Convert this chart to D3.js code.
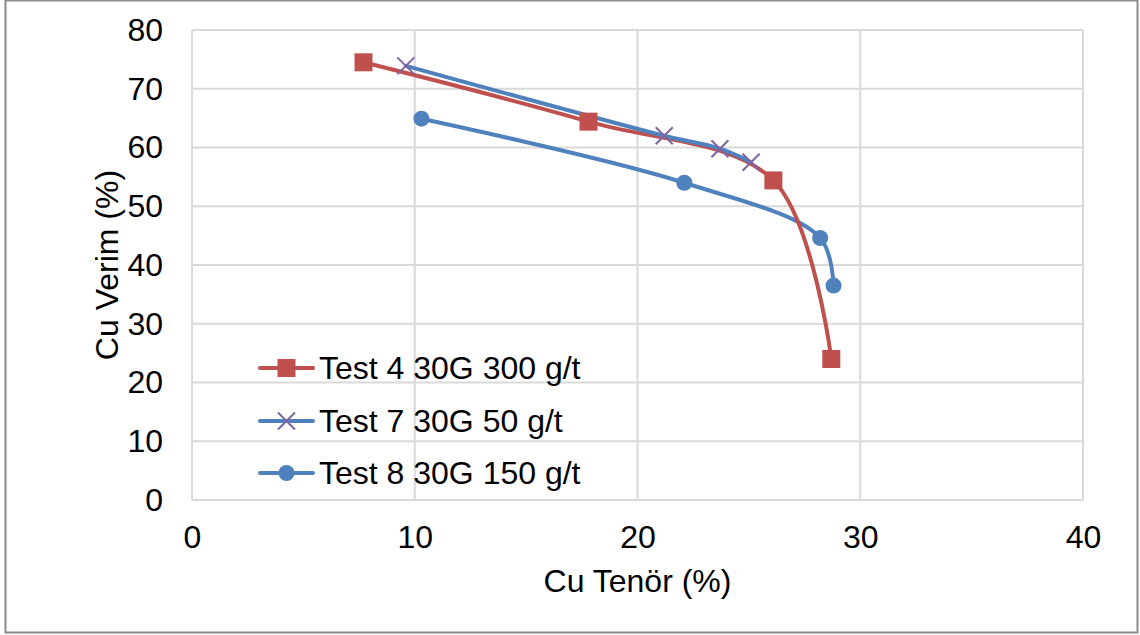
<!DOCTYPE html>
<html>
<head>
<meta charset="utf-8">
<script src="https://cdn.jsdelivr.net/npm/d3@7"></script>
<style>
  html, body { margin: 0; padding: 0; background: #fff; }
  svg { display: block; font-family: "Liberation Sans", Arial, sans-serif; }
</style>
</head>
<body>
<svg id="chart" width="1140" height="635"></svg>
<script>
// data ------------------------------------------------------------
var seriesNames = ["Test 4 30G 300 g/t", "Test 7 30G 50 g/t", "Test 8 30G 150 g/t"];
var test4_x = [7.7, 17.8, 26.1, 28.7];
var test4_y = [74.5, 64.4, 54.4, 24.0];
var test7_x = [9.6, 21.2, 23.7, 25.1];
var test7_y = [73.9, 62.0, 59.8, 57.5];
var test8_x = [10.3, 22.1, 28.2, 28.8];
var test8_y = [64.9, 54.0, 44.6, 36.5];
var xTicks = [0, 10, 20, 30, 40];
var yTicks = [0, 10, 20, 30, 40, 50, 60, 70, 80];

var lineColors = ["#C0504D", "#4F81BD", "#4F81BD"];
var markerColors = ["#C0504D", "#8064A2", "#4F81BD"];
var markerTypes = ["square", "cross", "circle"];

var series = [
  { name: seriesNames[0], xs: test4_x, ys: test4_y },
  { name: seriesNames[1], xs: test7_x, ys: test7_y },
  { name: seriesNames[2], xs: test8_x, ys: test8_y }
];

// layout ----------------------------------------------------------
var svg = d3.select("#chart");
var plot = { left: 192, right: 1083, top: 30, bottom: 500 };
var fontSize = 32;

// outer border
svg.append("rect")
  .attr("x", 5.5).attr("y", 0.5)
  .attr("width", 1132).attr("height", 632)
  .attr("fill", "#fff")
  .attr("stroke", "#8a8a8a").attr("stroke-width", 2);

var x = d3.scaleLinear().domain([0, 40]).range([plot.left, plot.right]);
var y = d3.scaleLinear().domain([0, 80]).range([plot.bottom, plot.top]);

// grid
var grid = svg.append("g").attr("stroke", "#d9d9d9").attr("stroke-width", 2);
grid.selectAll(".gy").data(yTicks).enter().append("line")
  .attr("x1", plot.left).attr("x2", plot.right)
  .attr("y1", d => y(d)).attr("y2", d => y(d));
grid.selectAll(".gx").data(xTicks).enter().append("line")
  .attr("y1", plot.top).attr("y2", plot.bottom)
  .attr("x1", d => x(d)).attr("x2", d => x(d));

// axes (labels only, Excel style)
var xAxis = svg.append("g")
  .attr("transform", `translate(0,${plot.bottom})`)
  .call(d3.axisBottom(x).tickValues(xTicks).tickSize(0).tickPadding(25));
var yAxis = svg.append("g")
  .attr("transform", `translate(${plot.left - 29},0)`)
  .call(d3.axisLeft(y).tickValues(yTicks).tickSize(0).tickPadding(0));
[xAxis, yAxis].forEach(function (a) {
  a.select(".domain").remove();
  a.selectAll("text")
    .attr("font-family", "Liberation Sans, Arial, sans-serif")
    .attr("font-size", fontSize)
    .attr("fill", "#000");
});

// axis titles
svg.append("text")
  .attr("x", (plot.left + plot.right) / 2).attr("y", 592)
  .attr("text-anchor", "middle")
  .attr("font-size", fontSize).attr("fill", "#000")
  .text("Cu Tenör (%)");
svg.append("text")
  .attr("transform", `translate(118,${(plot.top + plot.bottom) / 2}) rotate(-90)`)
  .attr("text-anchor", "middle")
  .attr("font-size", fontSize).attr("fill", "#000")
  .text("Cu Verim (%)");

// markers
function drawMarker(g, type, color, cx, cy) {
  if (type === "square") {
    g.append("rect")
      .attr("x", cx - 9).attr("y", cy - 9)
      .attr("width", 18).attr("height", 18)
      .attr("fill", color);
  } else if (type === "circle") {
    g.append("circle")
      .attr("cx", cx).attr("cy", cy).attr("r", 8)
      .attr("fill", color);
  } else {
    var s = 8.5;
    g.append("path")
      .attr("d", `M${cx - s},${cy - s}L${cx + s},${cy + s}M${cx - s},${cy + s}L${cx + s},${cy - s}`)
      .attr("stroke", color).attr("stroke-width", 2).attr("fill", "none");
  }
}

// lines
var line = d3.line()
  .x(d => x(d[0])).y(d => y(d[1]))
  .curve(d3.curveCatmullRom.alpha(0.5));

var order = [2, 0, 1];
order.forEach(function (i) {
  var s = series[i];
  var pts = s.xs.map((v, k) => [v, s.ys[k]]);
  svg.append("path")
    .datum(pts)
    .attr("d", line)
    .attr("fill", "none")
    .attr("stroke", lineColors[i])
    .attr("stroke-width", 4)
    .attr("stroke-linecap", "round");
});
order.forEach(function (i) {
  var s = series[i];
  var g = svg.append("g");
  s.xs.forEach(function (v, k) {
    drawMarker(g, markerTypes[i], markerColors[i], x(v), y(s.ys[k]));
  });
});

// legend
var legend = svg.append("g");
var legendY = [368, 421, 473];
series.forEach(function (s, i) {
  var g = legend.append("g");
  g.append("line")
    .attr("x1", 260).attr("x2", 313)
    .attr("y1", legendY[i]).attr("y2", legendY[i])
    .attr("stroke", lineColors[i]).attr("stroke-width", 4)
    .attr("stroke-linecap", "round");
  drawMarker(g, markerTypes[i], markerColors[i], 286.5, legendY[i]);
  g.append("text")
    .attr("x", 319).attr("y", legendY[i] + 11)
    .attr("font-size", fontSize).attr("fill", "#000")
    .text(s.name);
});
</script>
</body>
</html>
